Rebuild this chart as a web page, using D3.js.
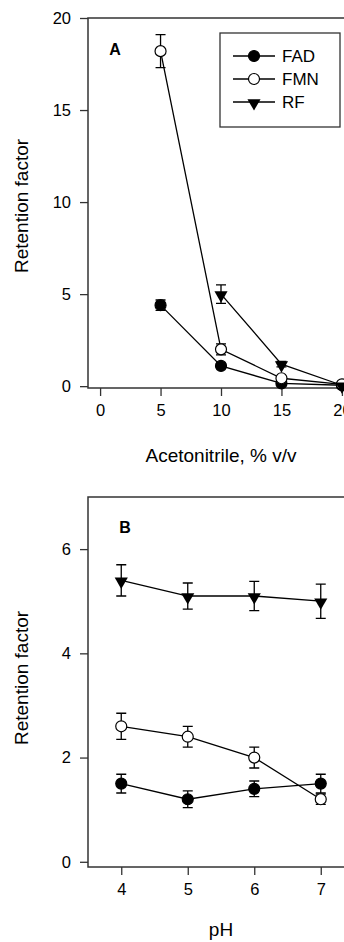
<!DOCTYPE html>
<html>
<head>
<meta charset="utf-8">
<script src="https://cdn.jsdelivr.net/npm/d3@7"></script>
<style>
  body { margin: 0; background: #fff; }
  svg { display: block; font-family: "Liberation Sans", Arial, sans-serif; }
</style>
</head>
<body>
<svg id="chart" width="344" height="942"></svg>
<script>
// Panel A - acetonitrile content
const acnPct = [5, 10, 15, 20];
const fadA = [4.4, 1.1, 0.15, 0.05];
const fadAErr = [0.28, 0.15, 0.05, 0.05];
const fmnA = [18.2, 2.0, 0.43, 0.1];
const fmnAErr = [0.9, 0.3, 0.1, 0.05];
const rfA = [null, 5.0, 1.2, 0.05];
const rfAErr = [null, 0.5, 0.15, 0.05];
const xTicksA = [0, 5, 10, 15, 20];
const yTicksA = [0, 5, 10, 15, 20];

// Panel B - pH
const phVals = [4, 5, 6, 7];
const fadB = [1.5, 1.2, 1.4, 1.5];
const fadBErr = [0.18, 0.16, 0.15, 0.18];
const fmnB = [2.6, 2.4, 2.0, 1.2];
const fmnBErr = [0.25, 0.2, 0.2, 0.1];
const rfB = [5.4, 5.1, 5.1, 5.0];
const rfBErr = [0.3, 0.25, 0.28, 0.33];
const xTicksB = [4, 5, 6, 7];
const yTicksB = [0, 2, 4, 6];

const seriesNames = ["FAD", "FMN", "RF"];

const svg = d3.select("#chart");

function marker(g, kind, x, y) {
  if (kind === "RF") {
    g.append("path")
      .attr("d", d3.symbol().type(d3.symbolTriangle).size(75)())
      .attr("transform", `translate(${x},${y + 1}) rotate(180)`)
      .attr("fill", "#000");
  } else {
    g.append("circle")
      .attr("cx", x).attr("cy", y).attr("r", 5.5)
      .attr("fill", kind === "FAD" ? "#000" : "#fff")
      .attr("stroke", "#000").attr("stroke-width", 1.2);
  }
}

function panel(opt) {
  const x = d3.scaleLinear().domain(opt.xDomain).range([88, 354]);
  const y = d3.scaleLinear().domain(opt.yDomain).range([opt.bottom, opt.top]);
  const g = svg.append("g");

  // frame
  g.append("rect")
    .attr("x", 88).attr("y", opt.top)
    .attr("width", 266).attr("height", opt.bottom - opt.top)
    .attr("fill", "none").attr("stroke", "#333").attr("stroke-width", 1.5);

  const xAxis = g.append("g")
    .attr("transform", `translate(0,${opt.bottom})`)
    .call(d3.axisBottom(x).tickValues(opt.xTicks).tickFormat(d3.format("d"))
      .tickSize(8).tickSizeOuter(0).tickPadding(8));
  const yAxis = g.append("g")
    .attr("transform", "translate(88,0)")
    .call(d3.axisLeft(y).tickValues(opt.yTicks).tickFormat(d3.format("d"))
      .tickSize(8).tickSizeOuter(0).tickPadding(9));
  [xAxis, yAxis].forEach(a => {
    a.select(".domain").remove();
    a.selectAll("line").attr("stroke", "#333").attr("stroke-width", 1.3);
    a.selectAll("text").attr("font-size", 16.5).attr("fill", "#000")
      .attr("font-family", "Liberation Sans, Arial, sans-serif");
  });

  g.append("text")
    .attr("x", 221).attr("y", opt.xTitleY)
    .attr("text-anchor", "middle").attr("font-size", 19)
    .text(opt.xTitle);

  g.append("text")
    .attr("transform", `translate(28,${opt.yTitleY}) rotate(-90)`)
    .attr("text-anchor", "middle").attr("font-size", 19)
    .text("Retention factor");

  g.append("text")
    .attr("x", opt.labelX).attr("y", opt.labelY)
    .attr("text-anchor", "middle").attr("font-size", 16).attr("font-weight", "bold")
    .text(opt.label);

  const plot = g.append("g");
  opt.series.forEach(s => {
    const pts = opt.xs.map((xv, i) => ({ x: xv, y: s.vals[i], e: s.err[i] }))
      .filter(d => d.y !== null);
    plot.append("path")
      .datum(pts)
      .attr("fill", "none").attr("stroke", "#000").attr("stroke-width", 1.3)
      .attr("d", d3.line().x(d => x(d.x)).y(d => y(d.y)));
    pts.forEach(d => {
      const cx = x(d.x), top = y(d.y + d.e), bot = y(d.y - d.e);
      plot.append("path")
        .attr("d", `M${cx},${top}V${bot}M${cx - 5},${top}H${cx + 5}M${cx - 5},${bot}H${cx + 5}`)
        .attr("stroke", "#000").attr("stroke-width", 1.3).attr("fill", "none");
    });
  });
  opt.series.forEach(s => {
    opt.xs.forEach((xv, i) => {
      if (s.vals[i] !== null) marker(plot, s.name, x(xv), y(s.vals[i]));
    });
  });
}

panel({
  xDomain: [-1, 21], yDomain: [-0.1, 20], top: 18, bottom: 388,
  xTicks: xTicksA, yTicks: yTicksA, xs: acnPct,
  xTitle: "Acetonitrile, % v/v", xTitleY: 462, yTitleY: 206,
  label: "A", labelX: 115, labelY: 55,
  series: [
    { name: "FAD", vals: fadA, err: fadAErr },
    { name: "FMN", vals: fmnA, err: fmnAErr },
    { name: "RF", vals: rfA, err: rfAErr }
  ]
});

panel({
  xDomain: [3.5, 7.5], yDomain: [-0.1, 7], top: 497, bottom: 867,
  xTicks: xTicksB, yTicks: yTicksB, xs: phVals,
  xTitle: "pH", xTitleY: 936, yTitleY: 678,
  label: "B", labelX: 125, labelY: 533,
  series: [
    { name: "FAD", vals: fadB, err: fadBErr },
    { name: "FMN", vals: fmnB, err: fmnBErr },
    { name: "RF", vals: rfB, err: rfBErr }
  ]
});

// legend for panel A
const legend = svg.append("g");
legend.append("rect")
  .attr("x", 220).attr("y", 33).attr("width", 120).attr("height", 94)
  .attr("fill", "#fff").attr("stroke", "#333").attr("stroke-width", 1.3);
const legY = d3.scalePoint().domain(seriesNames).range([56, 102]);
seriesNames.forEach(n => {
  const ly = legY(n);
  legend.append("line")
    .attr("x1", 233).attr("x2", 275).attr("y1", ly).attr("y2", ly)
    .attr("stroke", "#000").attr("stroke-width", 1.3);
  marker(legend, n, 254, ly);
  legend.append("text")
    .attr("x", 282).attr("y", ly + 6)
    .attr("font-size", 17)
    .text(n);
});
</script>
</body>
</html>
